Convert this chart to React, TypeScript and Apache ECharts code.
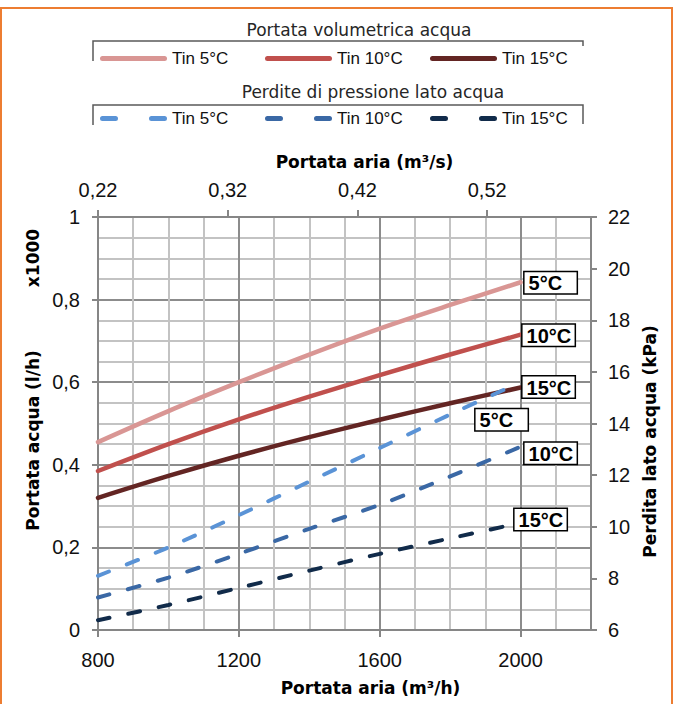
import React, { useEffect, useRef } from "react";
import * as echarts from "echarts";

// Air flow (m³/h) at which the curves are sampled
const airflow = [800, 1000, 1200, 1400, 1600, 1800, 2000];

// Portata volumetrica acqua (x1000 l/h)
const flow5 = [0.455, 0.53, 0.6, 0.667, 0.73, 0.787, 0.842];
const flow10 = [0.385, 0.45, 0.51, 0.565, 0.617, 0.667, 0.715];
const flow15 = [0.32, 0.373, 0.422, 0.467, 0.509, 0.549, 0.587];

// Perdite di pressione lato acqua (kPa)
const dp5 = [8.1, 9.2, 10.45, 11.75, 13.05, 14.35, 15.6];
const dp10 = [7.26, 8.03, 8.95, 9.92, 10.85, 11.95, 13.1];
const dp15 = [6.38, 6.97, 7.63, 8.3, 8.95, 9.55, 10.15];

const legendNames = ["Tin 5°C", "Tin 10°C", "Tin 15°C"];
const endLabels = ["5°C", "10°C", "15°C"];

const groupTitleFlow = "Portata volumetrica acqua";
const groupTitleDp = "Perdite di pressione lato acqua";

const FLOW_COLORS = ["#D99694", "#C0504D", "#632523"];
const DP_COLORS = ["#5A93D6", "#3A68A5", "#112B4A"];

const SOLID_ICON =
  "path://M2.5,0H64.5A2.5,2.5,0,0,1,64.5,5H2.5A2.5,2.5,0,0,1,2.5,0Z";
const DASH_ICON =
  "path://M2.5,0H15.5A2.5,2.5,0,0,1,15.5,5H2.5A2.5,2.5,0,0,1,2.5,0ZM51.5,0H64.5A2.5,2.5,0,0,1,64.5,5H51.5A2.5,2.5,0,0,1,51.5,0Z";

const TICK_FONT = '"Liberation Sans", Arial, sans-serif';
const TITLE_FONT = '"DejaVu Sans", sans-serif';
const AXIS_GRAY = "#868686";

const boxLabel = (text: string, pos: number[]) => ({
  show: true,
  formatter: text,
  position: pos,
  fontFamily: TICK_FONT,
  fontWeight: "bold",
  fontSize: 20,
  lineHeight: 20,
  color: "#000",
  backgroundColor: "#fff",
  borderColor: "#000",
  borderWidth: 1.5,
  padding: [1, 3, 0, 4],
  width: 45,
  overflow: "none",
});

function buildData(values: number[], text: string, pos: number[]) {
  return airflow.map((x, i) =>
    i === airflow.length - 1
      ? { value: [x, values[i]], label: boxLabel(text, pos) }
      : [x, values[i]]
  );
}

const labelPosFlow = [
  [4, -10],
  [2, -10],
  [2, -11],
];
const labelPosDp = [
  [-45, 27],
  [4, -4],
  [-6, -14],
];

export default function App() {
  const ref = useRef<HTMLDivElement>(null);

  useEffect(() => {
    if (!ref.current) return;
    const chart = echarts.init(ref.current, null, { renderer: "svg" });

    const flowSets = [flow5, flow10, flow15];
    const dpSets = [dp5, dp10, dp15];
    const nameMap: Record<string, string> = {};

    const series: any[] = [];
    flowSets.forEach((vals, k) => {
      const id = "q" + k;
      nameMap[id] = legendNames[k];
      series.push({
        type: "line",
        name: id,
        xAxisIndex: 0,
        yAxisIndex: 0,
        data: buildData(vals, endLabels[k], labelPosFlow[k]),
        smooth: 0.3,
        symbol: "circle",
        symbolSize: 0,
        showSymbol: true,
        lineStyle: { color: FLOW_COLORS[k], width: 4.5, cap: "round" },
        itemStyle: { color: FLOW_COLORS[k] },
        label: { show: false },
        emphasis: { disabled: true },
        z: 3,
      });
    });
    dpSets.forEach((vals, k) => {
      const id = "p" + k;
      nameMap[id] = legendNames[k];
      series.push({
        type: "line",
        name: id,
        xAxisIndex: 0,
        yAxisIndex: 1,
        data: buildData(vals, endLabels[k], labelPosDp[k]),
        smooth: 0.3,
        symbol: "circle",
        symbolSize: 0,
        showSymbol: true,
        lineStyle: { color: DP_COLORS[k], width: 4, type: [12, 19], cap: "round" },
        itemStyle: { color: DP_COLORS[k] },
        label: { show: false },
        emphasis: { disabled: true },
        z: 4,
      });
    });

    const legendCommon = {
      orient: "horizontal",
      itemWidth: 67,
      itemHeight: 5,
      padding: 0,
      selectedMode: false,
      formatter: (n: string) => nameMap[n],
      textStyle: { fontFamily: TICK_FONT, fontSize: 17, color: "#111" },
    };
    const legends: any[] = [];
    [0, 1, 2].forEach((k) => {
      legends.push({
        ...legendCommon,
        left: 100 + 165 * k,
        top: 50,
        data: [{ name: "q" + k, icon: SOLID_ICON, itemStyle: { color: FLOW_COLORS[k], borderWidth: 0 } }],
      });
      legends.push({
        ...legendCommon,
        left: 100 + 165 * k,
        top: 110,
        data: [{ name: "p" + k, icon: DASH_ICON, itemStyle: { color: DP_COLORS[k], borderWidth: 0 } }],
      });
    });

    const axisTitle = {
      fontFamily: TITLE_FONT,
      fontWeight: "bold",
      fontSize: 17,
      color: "#000",
    };
    const tickLabel = { fontFamily: TICK_FONT, fontSize: 20, color: "#111" };
    const comma = (v: number, d?: number) =>
      (d !== undefined ? v.toFixed(d) : String(Number(v.toFixed(3)))).replace(".", ",");

    const option: any = {
      animation: false,
      backgroundColor: "#fff",
      grid: { left: 98, top: 217, width: 493, height: 413, containLabel: false },
      legend: legends,
      xAxis: [
        {
          type: "value",
          position: "bottom",
          min: 800,
          max: 2200,
          interval: 400,
          axisLine: { show: true, onZero: false, lineStyle: { color: AXIS_GRAY, width: 2 } },
          axisTick: { show: true, inside: false, length: 7, lineStyle: { color: AXIS_GRAY, width: 2 } },
          axisLabel: {
            ...tickLabel,
            margin: 20,
            showMaxLabel: false,
            formatter: (v: number) => String(Math.round(v)),
          },
          splitLine: { show: true, lineStyle: { color: "#8C8C8C", width: 2 } },
          minorTick: { show: false, splitNumber: 4 },
          minorSplitLine: { show: true, lineStyle: { color: "#C3C3C3", width: 2 } },
          name: "Portata aria (m³/h)",
          nameLocation: "middle",
          nameGap: 49,
          nameTextStyle: { ...axisTitle, padding: [0, 0, 0, 52] },
        },
        {
          type: "value",
          position: "top",
          min: 0.22,
          max: 0.6,
          interval: 0.1,
          axisLine: { show: true, onZero: false, lineStyle: { color: AXIS_GRAY, width: 2 } },
          axisTick: { show: true, inside: false, length: 7, lineStyle: { color: AXIS_GRAY, width: 2 } },
          axisLabel: {
            ...tickLabel,
            margin: 17,
            showMaxLabel: false,
            formatter: (v: number) => comma(v, 2),
          },
          splitLine: { show: false },
          name: "Portata aria (m³/s)",
          nameLocation: "middle",
          nameGap: 47,
          nameTextStyle: { ...axisTitle, padding: [0, 0, 0, 40] },
        },
      ],
      yAxis: [
        {
          type: "value",
          position: "left",
          min: 0,
          max: 1,
          interval: 0.2,
          axisLine: { show: true, onZero: false, lineStyle: { color: AXIS_GRAY, width: 2 } },
          axisTick: { show: true, inside: false, length: 6, lineStyle: { color: AXIS_GRAY, width: 2 } },
          axisLabel: { ...tickLabel, margin: 18, formatter: (v: number) => comma(v) },
          splitLine: { show: true, lineStyle: { color: "#8C8C8C", width: 2 } },
          minorTick: { show: false, splitNumber: 4 },
          minorSplitLine: { show: true, lineStyle: { color: "#C3C3C3", width: 2 } },
          name: "Portata acqua (l/h)",
          nameLocation: "middle",
          nameRotate: 90,
          nameGap: 55,
          nameTextStyle: { ...axisTitle, padding: [0, 34, 0, 0] },
        },
        {
          type: "value",
          position: "right",
          min: 6,
          max: 22,
          interval: 2,
          axisLine: { show: true, onZero: false, lineStyle: { color: AXIS_GRAY, width: 2 } },
          axisTick: { show: true, inside: false, length: 6, lineStyle: { color: AXIS_GRAY, width: 2 } },
          axisLabel: { ...tickLabel, margin: 17 },
          splitLine: { show: false },
          name: "Perdita lato acqua (kPa)",
          nameLocation: "middle",
          nameRotate: 90,
          nameGap: 50,
          nameTextStyle: { ...axisTitle, padding: [0, 36, 0, 0] },
        },
      ],
      graphic: [
        {
          type: "rect",
          silent: true,
          shape: { x: 1, y: 8, width: 671, height: 720 },
          style: { fill: "none", stroke: "#ED7D31", lineWidth: 2 },
        },
        {
          type: "text",
          x: 359,
          y: 30,
          style: {
            text: groupTitleFlow,
            fontFamily: TITLE_FONT,
            fontSize: 17,
            fill: "#262626",
            align: "center",
            verticalAlign: "middle",
          },
        },
        {
          type: "text",
          x: 373,
          y: 92,
          style: {
            text: groupTitleDp,
            fontFamily: TITLE_FONT,
            fontSize: 17,
            fill: "#262626",
            align: "center",
            verticalAlign: "middle",
          },
        },
        {
          type: "polyline",
          shape: { points: [[93, 61], [93, 41], [583, 41], [583, 46]] },
          style: { stroke: "#595959", lineWidth: 1.5, fill: "none" },
        },
        {
          type: "polyline",
          shape: { points: [[93, 125], [93, 105], [583, 105], [583, 124]] },
          style: { stroke: "#595959", lineWidth: 1.5, fill: "none" },
        },
        {
          type: "text",
          x: 33,
          y: 258,
          rotation: Math.PI / 2,
          style: {
            text: "x1000",
            fontFamily: TITLE_FONT,
            fontWeight: "bold",
            fontSize: 17,
            fill: "#000",
            align: "center",
            verticalAlign: "middle",
          },
        },
      ],
      series,
    };

    chart.setOption(option);
    return () => chart.dispose();
  }, []);

  return (
    <div
      ref={ref}
      style={{ position: "absolute", left: 0, top: 0, width: 675, height: 704 }}
    />
  );
}
